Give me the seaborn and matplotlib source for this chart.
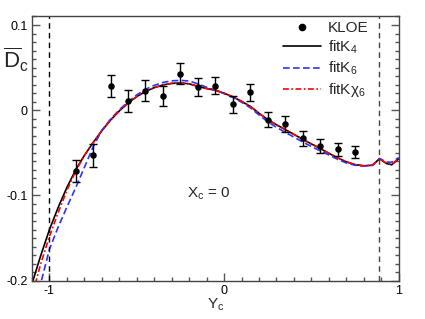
import numpy as np
import pandas as pd
import seaborn as sns
import matplotlib.pyplot as plt
from matplotlib.lines import Line2D

# KLOE data points
yc_data = [-0.85, -0.75, -0.65, -0.55, -0.45, -0.35, -0.25, -0.15, -0.05,
           0.05, 0.15, 0.25, 0.35, 0.45, 0.55, 0.65, 0.75]
dc_data = [-0.071, -0.053, 0.028, 0.011, 0.023, 0.017, 0.043, 0.027, 0.029,
           0.007, 0.021, -0.011, -0.016, -0.033, -0.042, -0.046, -0.049]
dc_err = [0.013, 0.013, 0.013, 0.0125, 0.012, 0.012, 0.012, 0.0105, 0.0105,
          0.010, 0.0097, 0.0092, 0.0092, 0.009, 0.0085, 0.0073, 0.0065]

# fit curves
yc_fit = [-1.1, -1.05, -1.0, -0.95, -0.9, -0.85, -0.8, -0.75, -0.7, -0.65,
          -0.6, -0.55, -0.5, -0.45, -0.4, -0.35, -0.3, -0.25, -0.2, -0.15,
          -0.1, -0.05, 0.0, 0.05, 0.1, 0.15, 0.2, 0.25, 0.3, 0.35,
          0.4, 0.45, 0.5, 0.55, 0.6, 0.65, 0.7, 0.75, 0.8, 0.85,
          0.89, 0.93, 0.96, 1.0]
fit_k4 = [-0.2035, -0.1705, -0.140, -0.114, -0.0905, -0.070, -0.053, -0.038, -0.024, -0.0115,
          -0.0008, 0.0085, 0.016, 0.022, 0.0265, 0.0297, 0.0315, 0.032, 0.031, 0.028,
          0.0255, 0.0235, 0.020, 0.0158, 0.0105, 0.0045, -0.0035, -0.011, -0.017, -0.0226,
          -0.0283, -0.034, -0.0395, -0.0448, -0.0505, -0.0558, -0.0605, -0.0638, -0.0652, -0.0645,
          -0.0570, -0.0625, -0.0640, -0.0570]
fit_k6 = [-0.245, -0.203, -0.163, -0.137, -0.1135, -0.091, -0.067, -0.043, -0.0235, -0.0105,
          0.0005, 0.010, 0.018, 0.0245, 0.0292, 0.0326, 0.0345, 0.035, 0.0343, 0.031,
          0.027, 0.0235, 0.0195, 0.015, 0.0095, 0.003, -0.0055, -0.0135, -0.020, -0.0258,
          -0.0315, -0.0372, -0.0425, -0.0475, -0.0525, -0.0575, -0.0618, -0.0645, -0.0655, -0.0645,
          -0.0565, -0.0608, -0.061, -0.0555]
fit_kchi6 = [-0.218, -0.180, -0.148, -0.120, -0.094, -0.0715, -0.053, -0.038, -0.024, -0.0115,
             -0.0008, 0.0085, 0.016, 0.022, 0.0265, 0.0297, 0.0315, 0.032, 0.031, 0.028,
             0.0255, 0.0235, 0.020, 0.0158, 0.0105, 0.0045, -0.0035, -0.011, -0.017, -0.0226,
             -0.0283, -0.034, -0.0395, -0.0448, -0.0505, -0.0558, -0.0605, -0.0638, -0.0652, -0.0645,
             -0.0570, -0.0620, -0.0635, -0.0565]

sns.set_style("white")
plt.rcParams["font.family"] = ["Liberation Sans", "DejaVu Sans"]
plt.rcParams["mathtext.fontset"] = "custom"
plt.rcParams["mathtext.rm"] = "Liberation Sans"
plt.rcParams["mathtext.it"] = "Liberation Sans:italic"

fig = plt.figure(figsize=(4.25, 3.19), dpi=100)
ax = fig.add_axes([0.0753, 0.120, 0.8627, 0.831])

sns.lineplot(x=yc_fit, y=fit_k4, ax=ax, color="black", lw=1.2)
sns.lineplot(x=yc_fit, y=fit_k6, ax=ax, color="#3030ff", lw=1.2, linestyle=(0, (4, 2)))
sns.lineplot(x=yc_fit, y=fit_kchi6, ax=ax, color="#ff0000", lw=1.2,
             linestyle=(0, (3.5, 1.5, 1, 1.5)))

ax.errorbar(yc_data, dc_data, yerr=dc_err, fmt="none", ecolor="black",
            elinewidth=1.0, capsize=3, capthick=1.0, zorder=4)
sns.scatterplot(x=yc_data, y=dc_data, ax=ax, color="black", s=22,
                edgecolor="black", linewidth=0, zorder=5)

ax.axvline(-1.0, color="black", lw=1.0, linestyle=(0, (4, 3)))
ax.axvline(0.89, color="#444444", lw=1.0, linestyle=(0, (4, 3)))

ax.set_xlim(-1.1, 1.0)
ax.set_ylim(-0.2, 0.111)
ax.set_xticks([-1, 0, 1])
ax.set_xticklabels(["-1", "0", "1"])
ax.set_xticks(np.arange(-1.1, 1.001, 0.1), minor=True)
ax.set_yticks([-0.2, -0.1, 0, 0.1])
ax.set_yticklabels(["-0.2", "-0.1", "0", "0.1"])
ax.set_yticks(np.arange(-0.2, 0.1105, 0.01), minor=True)
ax.tick_params(axis="both", which="both", direction="in", colors="#555555",
               labelcolor="black", labelsize=9, width=1.0)
ax.tick_params(axis="y", which="both", right=True, left=True)
ax.tick_params(axis="x", which="both", top=False, bottom=True)
ax.tick_params(which="major", length=6, pad=3)
ax.tick_params(which="minor", length=3)
for s in ax.spines.values():
    s.set_color("#444444")
    s.set_linewidth(1.0)
ax.set_xlabel("")
ax.set_ylabel("")

fig.text(3 / 425, 1 - 46 / 319, r"$\overline{\mathrm{D}}_{\mathrm{c}}$",
         fontsize=16, ha="left", va="top")
fig.text(207 / 425, 1 - 308.5 / 319, r"Y$_{\mathrm{c}}$", fontsize=11,
         ha="left", va="baseline")
ax.text(0.4227, 0.3147, r"X$_{\mathrm{c}}$ = 0", transform=ax.transAxes,
        fontsize=11, ha="left", va="baseline")

handles = [
    Line2D([], [], color="black", marker="o", markersize=4.5, linestyle="none"),
    Line2D([], [], color="black", lw=1.2),
    Line2D([], [], color="#3030ff", lw=1.2, linestyle=(0, (4, 2))),
    Line2D([], [], color="#ff0000", lw=1.2, linestyle=(0, (3.5, 1.5, 1, 1.5))),
]
labels = ["KLOE", r"fitK$_{4}$", r"fitK$_{6}$", r"fitKχ$_{6}$"]
ax.legend(handles, labels, loc="upper left", bbox_to_anchor=(283 / 425, 1 - 21 / 319),
          bbox_transform=fig.transFigure, frameon=False, fontsize=11,
          handlelength=2.5, handletextpad=0.45, labelspacing=0.25,
          borderpad=0, borderaxespad=0)

fig.savefig("out.png", dpi=100)
